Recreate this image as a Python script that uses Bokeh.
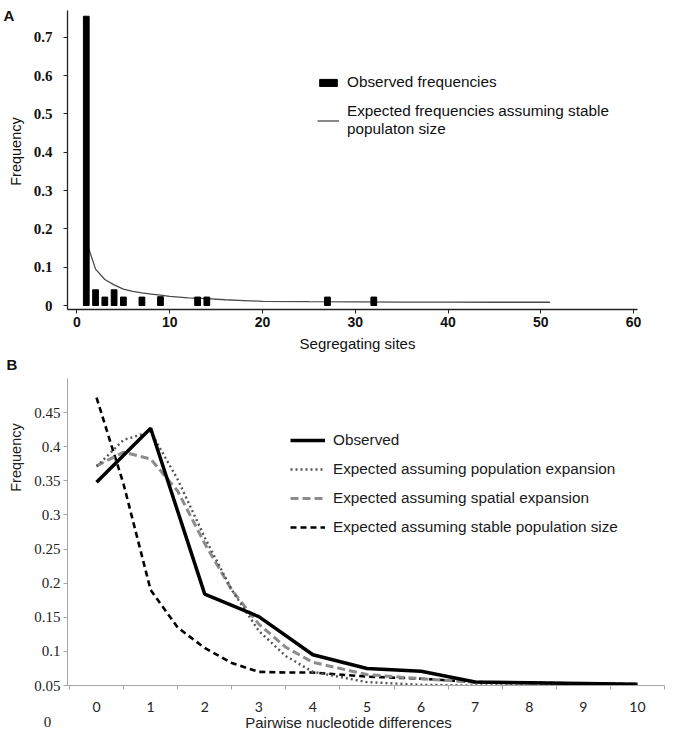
import math
from bokeh.plotting import figure
from bokeh.models import (Legend, LegendItem, Label, FixedTicker,
                          NumeralTickFormatter, Range1d)
from bokeh.layouts import column, row
from bokeh.embed import file_html
from bokeh.resources import INLINE

# ---------------- Panel A data ----------------
seg_sites = [1, 2, 3, 4, 5, 7, 9, 13, 14, 27, 32]
obs_freq = [0.755, 0.041, 0.022, 0.041, 0.022, 0.022, 0.023, 0.022, 0.022, 0.022, 0.022]
exp_sites = [1, 2, 3, 4, 5, 6, 7, 8, 9, 10, 12, 14, 16, 18, 20, 25, 30, 35, 40, 45, 51]
exp_freq = [0.168, 0.095, 0.068, 0.054, 0.043, 0.037, 0.033, 0.030, 0.027, 0.024,
            0.020, 0.018, 0.015, 0.013, 0.011, 0.010, 0.0095, 0.009, 0.009, 0.0085, 0.0085]
a_xticks = [0, 10, 20, 30, 40, 50, 60]
a_yticks = [0, 0.1, 0.2, 0.3, 0.4, 0.5, 0.6, 0.7]

# ---------------- Panel B data ----------------
diffs = [0, 1, 2, 3, 4, 5, 6, 7, 8, 9, 10]
observed = [0.348, 0.427, 0.184, 0.151, 0.095, 0.075, 0.071, 0.055, 0.054, 0.053, 0.052]
model_x = [0, 0.5, 1, 1.5, 2, 2.5, 3, 3.5, 4, 5, 6, 7, 8, 9, 10]
pop_expansion = [0.371, 0.410, 0.422, 0.352, 0.267, 0.190, 0.130, 0.093, 0.070,
                 0.055, 0.051, 0.050, 0.050, 0.050, 0.050]
spatial_expansion = [0.372, 0.392, 0.382, 0.335, 0.258, 0.190, 0.140, 0.106, 0.084,
                     0.066, 0.060, 0.055, 0.053, 0.052, 0.051]
stable_size = [0.472, 0.345, 0.190, 0.135, 0.105, 0.083, 0.070, 0.069, 0.069,
               0.063, 0.060, 0.055, 0.054, 0.053, 0.052]
b_yticks = [0.05, 0.1, 0.15, 0.2, 0.25, 0.3, 0.35, 0.4, 0.45]
b_minor = [-0.5, 0.5, 1.5, 2.5, 3.5, 4.5, 5.5, 6.5, 7.5, 8.5, 9.5, 10.5]

SANS = "Liberation Sans"
SERIF = "Liberation Serif"
SW = 26  # width of the left text strips


def strip(w, h):
    s = figure(width=w, height=h, x_range=Range1d(0, 1), y_range=Range1d(0, 1),
               x_axis_type=None, y_axis_type=None, output_backend="svg",
               toolbar_location=None, min_border=0)
    s.outline_line_color = None
    s.frame_align = False
    return s


def lab(fig, x, y, text, **kw):
    opts = dict(x_units="screen", y_units="screen", text_font=SANS,
                text_font_size="15px", text_color="#111111",
                text_baseline="middle", text_align="center")
    opts.update(kw)
    fig.add_layout(Label(x=x, y=y, text=text, **opts))


# ================= Panel A =================
HA = 333
pA = figure(width=680 - SW, height=HA, x_range=Range1d(-1.024, 63.34),
            y_range=Range1d(-0.0104, 0.770), output_backend="svg",
            toolbar_location=None, min_border_left=67 - SW, min_border_right=16,
            min_border_top=10, min_border_bottom=24)
pA.frame_align = False
pA.xgrid.grid_line_color = None
pA.ygrid.grid_line_color = None
pA.outline_line_color = None

ax = pA.xaxis[0]
ax.ticker = FixedTicker(ticks=a_xticks, minor_ticks=[])
ax.bounds = (-1.024, 60.45)
ax.major_tick_in = 0
ax.major_tick_out = 4
ax.axis_line_color = "#222222"
ax.axis_line_width = 1.3
ax.major_tick_line_color = "#222222"
ax.major_label_text_font = SANS
ax.major_label_text_font_style = "bold"
ax.major_label_text_font_size = "14px"
ax.major_label_text_color = "#111111"
ax.major_label_standoff = 3

ay = pA.yaxis[0]
ay.ticker = FixedTicker(ticks=a_yticks, minor_ticks=[])
ay.formatter = NumeralTickFormatter(format="0.[0]")
ay.major_tick_in = 0
ay.major_tick_out = 4
ay.axis_line_color = "#222222"
ay.axis_line_width = 1.3
ay.major_tick_line_color = "#222222"
ay.major_label_text_font = SERIF
ay.major_label_text_font_style = "bold"
ay.major_label_text_font_size = "15px"
ay.major_label_text_color = "#111111"
ay.major_label_standoff = 11

line_a = pA.line(exp_sites, exp_freq, line_color="#4a4a4a", line_width=1.3)
bars_a = pA.vbar(x=seg_sites, top=obs_freq, bottom=0, width=0.62,
                 fill_color="black", line_color="black")

leg_a = Legend(items=[
    LegendItem(label="Observed frequencies", renderers=[bars_a]),
    LegendItem(label="Expected frequencies assuming stable\npopulaton size", renderers=[line_a]),
], location=(250, 171), glyph_width=22, glyph_height=9, label_height=18,
    spacing=11, padding=0, margin=0, label_standoff=8,
    border_line_alpha=0, background_fill_alpha=0,
    label_text_font=SANS, label_text_font_size="15.3px", label_text_color="#111111")
pA.add_layout(leg_a)

sA = strip(SW, HA)
lab(sA, 3, HA - 6, "A", text_font_style="bold", text_baseline="top", text_align="left")
lab(sA, 15, HA - 151, "Frequency", angle=math.pi / 2, text_font_size="14.5px")

sA2 = strip(680, 19)
lab(sA2, 357, 9, "Segregating sites")

# ================= Panel B =================
HB = 362
pB = figure(width=680 - SW, height=HB, x_range=Range1d(-0.537, 10.5),
            y_range=Range1d(0.05, 0.5), output_backend="svg",
            toolbar_location=None, min_border_left=67 - SW, min_border_right=16,
            min_border_top=26, min_border_bottom=28)
pB.frame_align = False
pB.xgrid.grid_line_color = None
pB.ygrid.grid_line_color = None
pB.outline_line_color = None

bx = pB.xaxis[0]
bx.ticker = FixedTicker(ticks=diffs, minor_ticks=b_minor)
bx.major_tick_in = 0
bx.major_tick_out = 0
bx.minor_tick_in = 0
bx.minor_tick_out = 4
bx.axis_line_color = "#a6a6a6"
bx.minor_tick_line_color = "#a6a6a6"
bx.major_label_text_font = "Lato"
bx.major_label_text_font_size = "14px"
bx.major_label_text_color = "#222222"
bx.major_label_standoff = 12

by = pB.yaxis[0]
by.ticker = FixedTicker(ticks=b_yticks, minor_ticks=[])
by.formatter = NumeralTickFormatter(format="0.[00]")
by.major_tick_in = 0
by.major_tick_out = 4
by.axis_line_color = "#a6a6a6"
by.major_tick_line_color = "#a6a6a6"
by.major_label_text_font = SERIF
by.major_label_text_font_size = "15px"
by.major_label_text_color = "#222222"
by.major_label_standoff = 3

r_stable = pB.line(model_x, stable_size, line_color="black", line_width=2.6, line_dash="6 4")
r_spatial = pB.line(model_x, spatial_expansion, line_color="#8c8c8c", line_width=3, line_dash="8 4")
r_pop = pB.line(model_x, pop_expansion, line_color="#555555", line_width=2.4, line_dash="2 3")
r_obs = pB.line(diffs, observed, line_color="black", line_width=3.5)

leg_b = Legend(items=[
    LegendItem(label="Observed", renderers=[r_obs]),
    LegendItem(label="Expected assuming population expansion", renderers=[r_pop]),
    LegendItem(label="Expected assuming spatial expansion", renderers=[r_spatial]),
    LegendItem(label="Expected assuming stable population size", renderers=[r_stable]),
], location=(223, 148), glyph_width=35, glyph_height=20, label_height=20,
    spacing=9, padding=0, margin=0, label_standoff=8,
    border_line_alpha=0, background_fill_alpha=0,
    label_text_font=SANS, label_text_font_size="15.3px", label_text_color="#1a1a1a")
pB.add_layout(leg_b)

sB = strip(SW, HB)
lab(sB, 6, HB - 3, "B", text_font_style="bold", text_baseline="top", text_align="left")
lab(sB, 15, 714 - 457, "Frequency", angle=math.pi / 2, text_font_size="14.5px",
    text_color="#222222")

HS = 22
sB2 = strip(680, HS)
lab(sB2, 47, HS - 7, "0", text_font=SERIF, text_color="#222222")
lab(sB2, 348, HS - 8, "Pairwise nucleotide differences", text_color="#222222")

layout = column(row(sA, pA), sA2, row(sB, pB), sB2)
open("out.html", "w").write(file_html(layout, INLINE))
